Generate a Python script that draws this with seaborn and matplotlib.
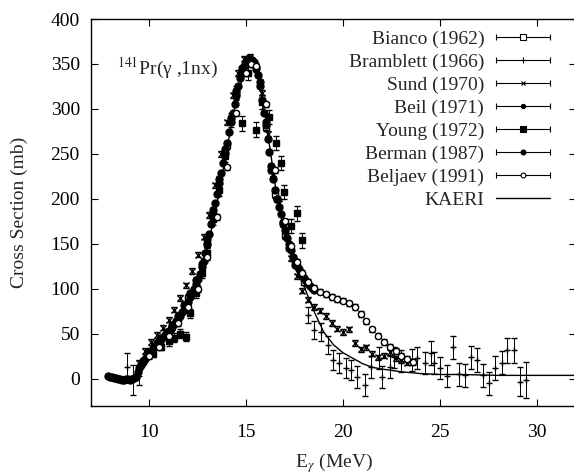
import matplotlib
matplotlib.use("Agg")
import matplotlib.pyplot as plt
import seaborn as sns
from matplotlib.lines import Line2D
from matplotlib.collections import LineCollection
from matplotlib.container import ErrorbarContainer
from matplotlib.legend_handler import HandlerErrorbar

# --- data (E in MeV, cross section in mb) ---
bianco_e = [12.0, 13.0, 14.0, 14.5, 15.0, 15.5, 16.0, 16.5, 17.0, 18.0]
bianco_xs = [90, 150, 260, 315, 352, 345, 280, 205, 160, 108]

bramb_e = [8.85, 9.15, 9.5, 18.2, 18.5, 18.85, 19.2, 19.45, 19.8, 20.15, 20.4, 20.7,
           21.1, 21.45, 21.85, 22.0, 22.4, 22.6, 23.0, 23.55, 23.8, 24.2, 24.5, 24.7,
           25.0, 25.35, 25.65, 25.95, 26.3, 26.6, 26.9, 27.2, 27.5, 27.85, 28.2, 28.45,
           28.8, 29.1, 29.4]
bramb_xs = [13, -1, 3, 71, 54, 52, 38, 21, 18, 12, 10, 2, -7, 13, 23, 2, 13, 24, 20, 21,
            23, 18, 29, 18, 12, 3, 35, 5, 4, 24, 21, 4, -5, 12, 18, 32, 32, -3, -1]
bramb_err = [16, 17, 10, 9, 10, 10, 10, 11, 11, 11, 11, 12, 12, 12, 12, 12, 12, 12, 12, 12,
             12, 12, 13, 12, 12, 12, 13, 13, 13, 13, 13, 13, 13, 13, 13, 14, 14, 16, 20]

sund_e = [9.5, 9.8, 10.1, 10.4, 10.7, 11.0, 11.3, 11.6, 11.9, 12.2, 12.5, 12.8, 13.1, 13.4,
          13.7, 14.0, 14.3, 14.6, 14.9, 15.2, 15.5, 15.8, 16.1, 16.4, 16.7, 17.0, 17.3, 17.6,
          17.9, 18.2, 18.5, 18.8, 19.1, 19.4, 19.7, 20.0, 20.3, 20.6, 20.9, 21.2, 21.5, 21.8,
          22.1, 22.4, 22.7, 23.0, 23.3]
sund_xs = [18, 31, 41, 49, 57, 66, 77, 90, 104, 120, 138, 158, 182, 215, 250, 285, 315, 340,
           356, 358, 345, 318, 272, 228, 195, 160, 134, 114, 98, 88, 80, 76, 70, 62, 56, 52,
           55, 40, 33, 35, 28, 24, 26, 30, 23, 21, 18]

beil_e = [9.7, 10.0, 10.3, 10.6, 10.9, 11.2, 11.5, 11.8, 12.1, 12.4, 12.7, 13.0, 13.3, 13.6,
          13.9, 14.2, 14.5, 14.8, 15.1, 15.4, 15.7, 16.0, 16.3, 16.6, 16.9, 17.2, 17.5, 17.8]
beil_xs = [20, 30, 37, 45, 52, 60, 70, 82, 95, 110, 128, 155, 188, 222, 255, 290, 320, 345,
           356, 350, 330, 285, 232, 200, 172, 145, 127, 117]

young_e = [10.2, 10.6, 11.0, 11.3, 11.6, 11.9, 12.1, 12.4, 12.7, 13.0, 13.3, 13.6, 13.9,
           14.2, 14.5, 14.8, 15.1, 15.5, 15.8, 16.2, 16.55, 16.8, 16.97, 17.3, 17.64, 17.9]
young_xs = [28, 36, 42, 46, 50, 47, 73, 96, 118, 140, 178, 210, 248, 288, 318, 284, 340, 277,
            308, 291, 262, 240, 208, 170, 184, 154]
young_err = [4, 4, 5, 5, 5, 5, 5, 6, 6, 6, 7, 7, 7, 8, 8, 8, 8, 8, 8, 8, 8, 8, 8, 8, 8, 8]

berman_e = [7.9, 8.0, 8.1, 8.2, 8.3, 8.4, 8.5, 8.6, 8.7, 8.8, 8.9, 9.0, 9.1, 9.2, 9.3,
            9.4, 9.5, 9.6, 9.7, 9.8, 9.9, 10.0, 10.1, 10.2, 10.3, 10.4, 10.5, 10.6, 10.7,
            10.8, 10.9, 11.0, 11.1, 11.2, 11.3, 11.4, 11.5, 11.6, 11.7, 11.8, 11.9, 12.0,
            12.1, 12.2, 12.3, 12.4, 12.5, 12.6, 12.7, 12.8, 12.9, 13.0, 13.1, 13.2, 13.3,
            13.4, 13.5, 13.6, 13.7, 13.8, 13.9, 14.0, 14.1, 14.2, 14.3, 14.4, 14.5, 14.6,
            14.7, 14.8, 14.9, 15.0, 15.1, 15.2, 15.3, 15.4, 15.5, 15.6, 15.7, 15.8, 15.9,
            16.0, 16.1, 16.2, 16.3, 16.4, 16.5, 16.6, 16.7, 16.8, 16.9, 17.0, 17.1, 17.2,
            17.3, 17.4, 17.5, 17.6, 17.7, 17.8, 17.9, 18.0, 18.1, 18.2, 18.3, 18.4, 18.5]
berman_xs = [3, 2, 2, 1, 1, 0, 0, -1, -1, 0, 0, -1, 0, 1, 2,
             8, 12, 15, 19, 22, 26, 29, 31, 34, 37, 40, 42, 44, 47,
             49, 51, 53, 56, 58, 61, 64, 67, 70, 74, 77, 81, 86,
             91, 96, 100, 105, 111, 117, 124, 131, 140, 150, 161, 172, 183,
             195, 206, 218, 229, 240, 251, 262, 274, 285, 295, 305, 316, 325,
             334, 342, 348, 352, 355, 356, 354, 352, 345, 338, 326, 310, 296,
             282, 267, 252, 237, 222, 210, 200, 191, 183, 174, 165, 157, 150,
             143, 136, 131, 126, 122, 118, 115, 112, 109, 106, 103, 101, 99]

beljaev_e = [10.0, 10.5, 11.0, 11.5, 12.0, 12.5, 13.0, 13.5, 14.0, 14.5, 15.0, 15.25, 15.5,
             16.0, 16.5, 17.0, 17.3, 17.6, 17.9, 18.2, 18.5, 18.8, 19.1, 19.4, 19.7, 20.0,
             20.3, 20.6, 20.9, 21.2, 21.5, 21.8, 22.1, 22.4, 22.7, 23.0, 23.3, 23.6]
beljaev_xs = [25, 36, 48, 62, 80, 100, 135, 180, 235, 295, 340, 350, 348, 305, 232, 175, 148,
              130, 118, 108, 101, 97, 94, 91, 89, 87, 84, 80, 72, 64, 55, 48, 41, 36, 31, 26,
              22, 19]

kaeri_e = [8.0, 9.0, 9.4, 9.7, 10.0, 10.5, 11.0, 11.5, 12.0, 12.5, 13.0, 13.5, 14.0, 14.5,
           15.0, 15.3, 15.6, 16.0, 16.5, 17.0, 17.5, 18.0, 18.5, 19.0, 19.5, 20.0, 20.5, 21.0,
           21.5, 22.0, 23.0, 24.0, 25.0, 26.0, 28.0, 30.0, 32.0]
kaeri_xs = [0, 0, 2, 12, 25, 38, 52, 67, 85, 108, 145, 195, 255, 312, 348, 355, 340, 290,
            215, 160, 125, 102, 75, 52, 38, 29, 23, 17, 13, 11, 8, 6, 5, 5, 4, 4, 4]

sns.set_style("ticks")
plt.rcParams['font.family'] = ['Liberation Serif', 'DejaVu Serif']
plt.rcParams['mathtext.fontset'] = 'stix'
plt.rcParams['xtick.direction'] = 'in'
plt.rcParams['ytick.direction'] = 'in'
plt.rcParams['xtick.top'] = True
plt.rcParams['ytick.right'] = True
plt.rcParams['axes.edgecolor'] = 'black'
plt.rcParams['xtick.color'] = 'black'
plt.rcParams['ytick.color'] = 'black'

fig = plt.figure(figsize=(5.74, 4.75), dpi=100)
ax = fig.add_axes([0.1585, 0.1453, 0.845, 0.8147])

# evaluation curve
sns.lineplot(x=kaeri_e, y=kaeri_xs, color='black', lw=1, ax=ax)

# experimental sets: (E, xs, err, marker, facecolor, size)
sets = [
    (bianco_e, bianco_xs, 4, 's', 'white', 4.5),
    (bramb_e, bramb_xs, bramb_err, '+', 'black', 4.5),
    (sund_e, sund_xs, 3, 'x', 'black', 5),
    (beil_e, beil_xs, 3, 'o', 'black', 5),
    (young_e, young_xs, young_err, 's', 'black', 5),
    (berman_e, berman_xs, 2, 'o', 'black', 5),
    (beljaev_e, beljaev_xs, 3, 'o', 'white', 4.5),
]
for e, xs, err, m, fc, ms in sets:
    ax.errorbar(e, xs, yerr=err, fmt=m, ms=ms, mfc=fc, mec='black', mew=1.0,
                ecolor='black', elinewidth=0.7, capsize=2, capthick=0.7, color='black')

ax.set_xlim(7, 32)
ax.set_ylim(-30, 400)
ax.set_xticks([10, 15, 20, 25, 30])
ax.set_yticks(range(0, 401, 50))
ax.tick_params(labelsize=14, length=5, width=0.8)
ax.tick_params(axis='x', pad=13)
ax.tick_params(axis='y', pad=8)
for s in ax.spines.values():
    s.set_linewidth(1)
    s.set_visible(True)

ax.set_xlabel(r'E$_\gamma$ (MeV)', fontsize=14, labelpad=7)
ax.set_ylabel('Cross Section (mb)', fontsize=14, labelpad=16)
ax.text(8.35, 338, r'$^{141}$Pr(γ ,1nx)', fontsize=14, va='baseline', ha='left')


def proxy(marker, mfc, ms, label):
    line = Line2D([], [], marker=marker, ls='none', color='black', mfc=mfc, mec='black',
                  ms=ms, mew=0.8)
    cap = Line2D([], [], marker='|', ls='none', color='black', ms=5, mew=0.8)
    bar = LineCollection([], colors='black', linewidths=0.8)
    return ErrorbarContainer((line, (cap,), (bar,)), has_xerr=True, has_yerr=False,
                             label=label)


handles = [
    proxy('s', 'white', 4, 'Bianco (1962)'),
    proxy('+', 'black', 4, 'Bramblett (1966)'),
    proxy('x', 'black', 3.5, 'Sund (1970)'),
    proxy('o', 'black', 3, 'Beil (1971)'),
    proxy('s', 'black', 4, 'Young (1972)'),
    proxy('o', 'black', 3.5, 'Berman (1987)'),
    proxy('o', 'white', 3.5, 'Beljaev (1991)'),
    Line2D([], [], color='black', lw=1, label='KAERI'),
]
ax.legend(handles=handles, loc='upper right', bbox_to_anchor=(0.963, 0.99),
          borderaxespad=0, frameon=False, markerfirst=False, handlelength=2.8,
          handletextpad=0.6, labelspacing=0.27, fontsize=14, numpoints=1,
          handler_map={ErrorbarContainer: HandlerErrorbar(xerr_size=1.4)})

fig.savefig('out.png', dpi=100)
